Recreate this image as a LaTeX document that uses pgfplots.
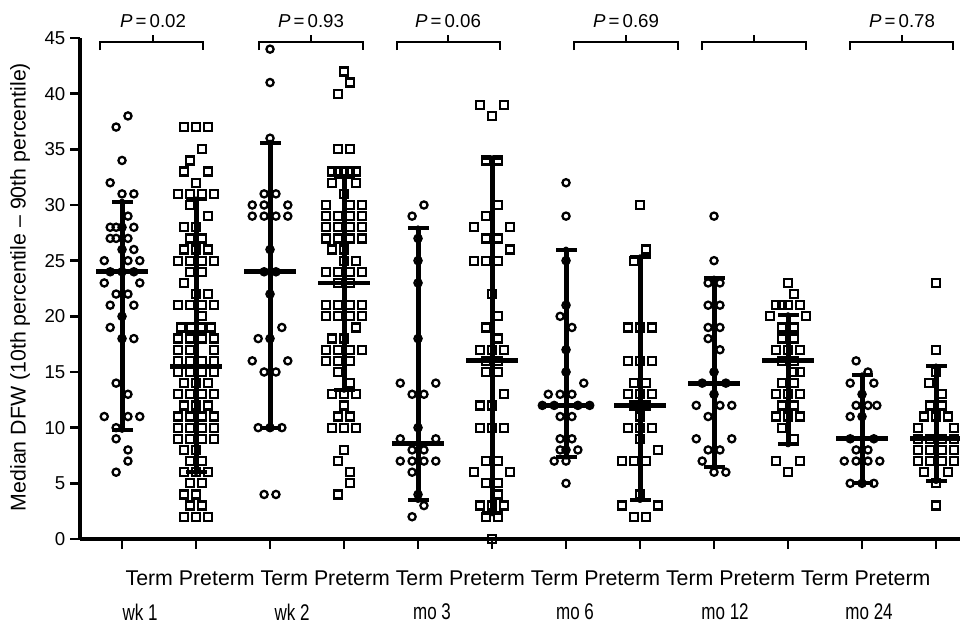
\documentclass[border=0pt]{standalone}
\usepackage{fontspec}
\setmainfont{Liberation Sans}
\usepackage{graphicx}
\usepackage{pgfplots}
\pgfplotsset{compat=1.18}

\begin{document}
\begin{tikzpicture}
\useasboundingbox (-60pt,-64.5pt) rectangle (660pt,404.25pt);
\begin{axis}[
    scale only axis,
    width=660pt, height=375.75pt,
    xmin=0.432, xmax=12.324,
    ymin=0, ymax=45,
    clip=false,
    axis x line*=bottom,
    axis y line*=left,
    axis line style={line width=2.6pt},
    xtick={1,...,12},
    xticklabel=\empty,
    ytick={0,5,...,45},
    tick align=outside,
    major tick length=7.5pt,
    tick style={line width=2pt, black},
    ticklabel style={font=\fontsize{14}{16}\selectfont},
    /pgf/number format/assume math mode=true,
  ]
  % Term: circles (x = group position + swarm offset)
  \addplot[only marks, mark=o, mark size=2.7pt, line width=1.7pt] coordinates {
(1.08,38) (0.92,37) (1,34) (0.84,32) (1,31) (1.16,31) (1.08,29) (0.84,28) (0.92,28) (1,28) (1.16,28)
(0.84,27) (0.92,27) (1.08,27) (1,26) (1.16,26) (0.76,25) (1.08,25) (1.24,25) (0.84,24) (1,24) (1.16,24)
(0.76,23) (1.24,23) (0.92,22) (1.08,22) (0.84,21) (1.16,21) (1,20) (0.84,19) (1,18) (1.16,18) (0.92,14)
(1.08,13) (0.76,11) (1.08,11) (1.24,11) (0.92,10) (0.92,9) (1.08,8) (1.08,7) (0.92,6)
(3,44) (3,41) (3,36) (2.92,31) (3.08,31) (2.76,30) (2.92,30) (3.24,30) (2.76,29) (2.92,29) (3.08,29) (3.24,29)
(3,26) (2.92,24) (3.08,24) (3,22) (3.16,19) (2.84,18) (3,18) (2.76,16) (3.24,16) (2.92,15) (3.08,15)
(2.84,10) (3,10) (3.16,10) (2.92,4) (3.08,4)
(5.08,30) (4.92,29) (5,27) (5,25) (5,23) (5,18) (4.76,14) (5.24,14) (4.92,13) (5.08,13) (5,10) (4.76,9)
(5.24,9) (4.92,8) (5.08,8) (4.76,7) (4.92,7) (5.08,7) (5.24,7) (4.92,6) (5,4) (5.08,3) (4.92,2)
(7,32) (7,29) (7,25) (7,21) (6.92,20) (7.08,19) (7,17) (7,15) (7.24,14) (6.76,13) (6.92,13) (7.08,13)
(6.68,12) (6.84,12) (7.16,12) (7.32,12) (6.92,11) (7.08,11) (6.92,9) (7.08,9) (6.92,8) (7,8) (7.16,8)
(6.84,7) (7,7) (7,5)
(9,29) (9,25) (8.92,23) (9.08,23) (8.92,21) (9.08,21) (8.92,19) (9.08,19) (8.92,18) (9.08,17) (9,15)
(8.84,14) (9.16,14) (9,13) (8.76,12) (9.08,12) (9.24,12) (8.92,11) (8.76,9) (9.24,9) (8.92,8) (9.08,8)
(8.84,7) (9,6) (9.16,6)
(10.92,16) (11.08,15) (10.84,14) (11.16,14) (11,13) (10.92,12) (11.08,12) (11.2,12) (10.84,11) (11,11)
(10.84,9) (11.16,9) (10.92,8) (11.08,8) (10.76,7) (10.92,7) (11.08,7) (11.24,7) (10.84,5) (11,5) (11.16,5)
  };
  % Preterm: squares
  \addplot[only marks, mark=square, mark size=3pt, line width=1.7pt] coordinates {
(1.84,37) (2,37) (2.16,37) (2.08,35) (1.92,34) (1.84,33) (2.16,33) (2,32) (1.76,31) (1.92,31) (2.08,31)
(2.24,31) (1.92,30) (2.16,29) (1.84,28) (2,28) (1.92,27) (2.08,27) (1.84,26) (2,26) (2.16,26) (1.76,25)
(1.92,25) (2.08,25) (2.24,25) (1.92,24) (2.08,24) (1.84,23) (2,22) (2.16,22) (1.76,21) (1.92,21) (2.08,21)
(2.24,21) (2.08,20) (1.8,19) (1.93,19) (2.07,19) (2.2,19) (1.76,18) (1.92,18) (2.08,18) (2.24,18) (1.76,17)
(1.92,17) (2.24,17) (1.76,16) (1.92,16) (2.08,16) (2.24,16) (1.76,15) (1.92,15) (2.08,15) (2.24,15) (1.84,14)
(2,14) (2.16,14) (1.76,13) (1.92,13) (2.08,13) (2.24,13) (1.84,12) (2,12) (2.16,12) (1.76,11) (1.92,11)
(2.08,11) (2.24,11) (1.76,10) (1.92,10) (2.08,10) (2.24,10) (1.76,9) (1.92,9) (2.08,9) (2.24,9) (1.84,8)
(2,8) (1.92,7) (2.08,7) (1.84,6) (2,6) (2.16,6) (1.92,5) (2.08,5) (1.84,4) (2,4) (1.92,3) (2.08,3)
(1.84,2) (2,2) (2.16,2)
(4,42) (4.08,41) (3.92,40) (3.92,35) (4.08,35) (3.84,33) (3.92,33) (4,33) (4.08,33) (4.16,33) (3.84,32)
(4.16,32) (4,31) (3.76,30) (4.08,30) (4.24,30) (3.76,29) (3.92,29) (4.08,29) (4.24,29) (3.76,28) (3.92,28)
(4.08,28) (4.24,28) (3.76,27) (3.92,27) (4.08,27) (4.24,27) (3.84,26) (4,26) (4,25) (4.16,25) (3.76,24)
(3.92,24) (4.08,24) (4.24,24) (3.92,23) (4.08,23) (3.76,21) (3.92,21) (4.08,21) (4.24,21) (3.76,20)
(3.92,20) (4.08,20) (4.24,20) (4.16,19) (3.84,18) (4,18) (3.76,17) (3.92,17) (4.08,17) (4.24,17) (3.76,16)
(3.92,16) (4.08,16) (3.92,15) (4.08,14) (3.84,13) (4,13) (4.16,13) (4,12) (3.92,11) (4.08,11) (3.84,10)
(4,10) (4.16,10) (4,8) (3.92,7) (4.08,6) (4.08,5) (3.92,4)
(5.84,39) (6.16,39) (6,38) (5.92,34) (6.08,34) (6.08,30) (5.92,29) (5.76,28) (6.24,28) (5.92,27) (6.08,27)
(6.24,26) (5.76,25) (5.92,25) (6.08,25) (6,22) (6.08,20) (5.92,19) (6.08,18) (5.84,17) (6,17) (6.16,17)
(5.92,16) (6.08,16) (5.92,15) (6.08,15) (6.16,13) (5.84,12) (6,12) (5.84,10) (6,10) (6.16,10) (5.92,7)
(6.08,7) (5.76,6) (6.24,6) (5.92,5) (6.08,5) (6.08,4) (5.84,3) (6,3) (6.16,3) (5.92,2) (6.08,2) (6,0)
(8,30) (8.08,26) (7.92,25) (7.84,19) (8,19) (8.16,19) (7.84,16) (8,16) (8.16,16) (7.92,14) (8.08,14)
(7.84,13) (8,13) (8.16,13) (7.92,12) (8.08,12) (8,11) (7.84,10) (8,10) (8.16,10) (8,9) (8.24,8) (7.76,7)
(7.92,7) (8.08,7) (8,4) (7.76,3) (8.24,3) (7.92,2) (8.08,2)
(10,23) (10.08,22) (9.84,21) (9.92,21) (10,21) (10.16,21) (9.76,20) (10.24,20) (9.92,19) (10.08,19)
(9.92,18) (10.08,18) (9.84,17) (10,17) (10.16,17) (9.92,16) (10.08,16) (10.08,15) (10.16,15) (9.92,14)
(10.08,14) (9.84,13) (10,13) (10.16,13) (9.92,12) (10.08,12) (9.84,11) (10,11) (10.16,11) (9.92,10)
(10.08,9) (9.84,7) (10.16,7) (10,6)
(12,23) (12,17) (12,15) (11.9,14) (12.08,13) (11.92,12) (12.08,12) (11.84,11) (12,11) (12.16,11)
(11.76,10) (12.24,10) (11.76,9) (11.92,9) (12.08,9) (12.24,9) (11.76,8) (11.92,8) (12.08,8) (12.24,8)
(11.76,7) (11.92,7) (12.08,7) (12.24,7) (11.84,6) (12.16,6) (12,5) (12,3)
  };
  % 10th-90th percentile ranges (vertical bars)
  \addplot[only marks, mark=none,
    error bars/.cd, y dir=both, y explicit, error mark=none,
    error bar style={draw=black, line width=3.75pt}]
  coordinates {
    (1,24) += (0,6.3) -= (0,14.2)
    (2,15.5) += (0,15) -= (0,9.5)
    (3,24) += (0,11.6) -= (0,14)
    (4,23) += (0,9.5) -= (0,9.6)
    (5,8.6) += (0,19.3) -= (0,5.1)
    (6,16) += (0,18.2) -= (0,13.7)
    (7,12) += (0,14) -= (0,4.6)
    (8,12) += (0,13.3) -= (0,8.5)
    (9,14) += (0,9.4) -= (0,7.5)
    (10,16) += (0,4.1) -= (0,7.5)
    (11,9) += (0,5.7) -= (0,4)
    (12,9) += (0,6.5) -= (0,3.8)
  };
  % caps at the 10th and 90th percentiles
  \addplot[only marks, mark=none,
    error bars/.cd, x dir=both, x explicit, error mark=none,
    error bar style={draw=black, line width=3pt}]
  coordinates {
    (1,30.3) +- (0.142,0)  (1,9.8) +- (0.142,0)
    (2,30.5) +- (0.142,0)  (2,6) +- (0.142,0)
    (3,35.6) +- (0.142,0)  (3,10) +- (0.142,0)
    (4,32.5) +- (0.142,0)  (4,13.4) +- (0.142,0)
    (5,27.9) +- (0.142,0)  (5,3.5) +- (0.142,0)
    (6,34.2) +- (0.142,0)  (6,2.3) +- (0.142,0)
    (7,26) +- (0.142,0)    (7,7.4) +- (0.142,0)
    (8,25.3) +- (0.142,0)  (8,3.5) +- (0.142,0)
    (9,23.4) +- (0.142,0)  (9,6.5) +- (0.142,0)
    (10,20.1) +- (0.142,0) (10,8.5) +- (0.142,0)
    (11,14.7) +- (0.142,0) (11,5) +- (0.142,0)
    (12,15.5) +- (0.142,0) (12,5.2) +- (0.142,0)
  };
  % medians
  \addplot[only marks, mark=none,
    error bars/.cd, x dir=both, x explicit, error mark=none,
    error bar style={draw=black, line width=3.6pt}]
  coordinates {
    (1,24) +- (0.35,0)   (2,15.5) +- (0.35,0) (3,24) +- (0.35,0)   (4,23) +- (0.35,0)
    (5,8.6) +- (0.35,0)  (6,16) +- (0.35,0)   (7,12) +- (0.35,0)   (8,12) +- (0.35,0)
    (9,14) +- (0.35,0)   (10,16) +- (0.35,0)  (11,9) +- (0.35,0)   (12,9) +- (0.35,0)
  };
  % brackets
  \draw[line width=1.5pt] (axis cs:0.703,43.9) -- (axis cs:0.703,44.6) -- (axis cs:2.095,44.6) -- (axis cs:2.095,43.9);
  \draw[line width=1.5pt] (axis cs:1.419,44.6) -- (axis cs:1.419,45.3);
  \draw[line width=1.5pt] (axis cs:2.851,43.9) -- (axis cs:2.851,44.6) -- (axis cs:4.257,44.6) -- (axis cs:4.257,43.9);
  \draw[line width=1.5pt] (axis cs:3.554,44.6) -- (axis cs:3.554,45.3);
  \draw[line width=1.5pt] (axis cs:4.716,43.9) -- (axis cs:4.716,44.6) -- (axis cs:6.108,44.6) -- (axis cs:6.108,43.9);
  \draw[line width=1.5pt] (axis cs:5.405,44.6) -- (axis cs:5.405,45.3);
  \draw[line width=1.5pt] (axis cs:7.108,43.9) -- (axis cs:7.108,44.6) -- (axis cs:8.514,44.6) -- (axis cs:8.514,43.9);
  \draw[line width=1.5pt] (axis cs:7.811,44.6) -- (axis cs:7.811,45.3);
  \draw[line width=1.5pt] (axis cs:8.838,43.9) -- (axis cs:8.838,44.6) -- (axis cs:10.243,44.6) -- (axis cs:10.243,43.9);
  \draw[line width=1.5pt] (axis cs:9.541,44.6) -- (axis cs:9.541,45.3);
  \draw[line width=1.5pt] (axis cs:10.838,43.9) -- (axis cs:10.838,44.6) -- (axis cs:12.230,44.6) -- (axis cs:12.230,43.9);
  \draw[line width=1.5pt] (axis cs:11.541,44.6) -- (axis cs:11.541,45.3);
  % P values
  \node[font=\fontsize{14}{16}\selectfont] at (axis cs:1.419,46.55) {\textit{P}\,=\,0.02};
  \node[font=\fontsize{14}{16}\selectfont] at (axis cs:3.554,46.55) {\textit{P}\,=\,0.93};
  \node[font=\fontsize{14}{16}\selectfont] at (axis cs:5.405,46.55) {\textit{P}\,=\,0.06};
  \node[font=\fontsize{14}{16}\selectfont] at (axis cs:7.811,46.55) {\textit{P}\,=\,0.69};
  \node[font=\fontsize{14}{16}\selectfont] at (axis cs:11.541,46.55) {\textit{P}\,=\,0.78};
  % group labels
  \node[font=\fontsize{16}{18}\selectfont] at (axis cs:6.486,-3.5)
    {Term Preterm Term Preterm Term Preterm Term Preterm Term Preterm Term Preterm};
  \node[font=\fontsize{17}{19}\selectfont] at (axis cs:1.243,-6.56) {\scalebox{0.75}[1]{wk 1}};
  \node[font=\fontsize{17}{19}\selectfont] at (axis cs:3.297,-6.56) {\scalebox{0.75}[1]{wk 2}};
  \node[font=\fontsize{17}{19}\selectfont] at (axis cs:5.189,-6.56) {\scalebox{0.75}[1]{mo 3}};
  \node[font=\fontsize{17}{19}\selectfont] at (axis cs:7.122,-6.56) {\scalebox{0.75}[1]{mo 6}};
  \node[font=\fontsize{17}{19}\selectfont] at (axis cs:9.149,-6.56) {\scalebox{0.75}[1]{mo 12}};
  \node[font=\fontsize{17}{19}\selectfont] at (axis cs:11.095,-6.56) {\scalebox{0.75}[1]{mo 24}};
\end{axis}
\node[rotate=90, font=\fontsize{16}{18}\selectfont] at (-45pt,189pt)
  {Median DFW (10th percentile – 90th percentile)};
\end{tikzpicture}
\end{document}
